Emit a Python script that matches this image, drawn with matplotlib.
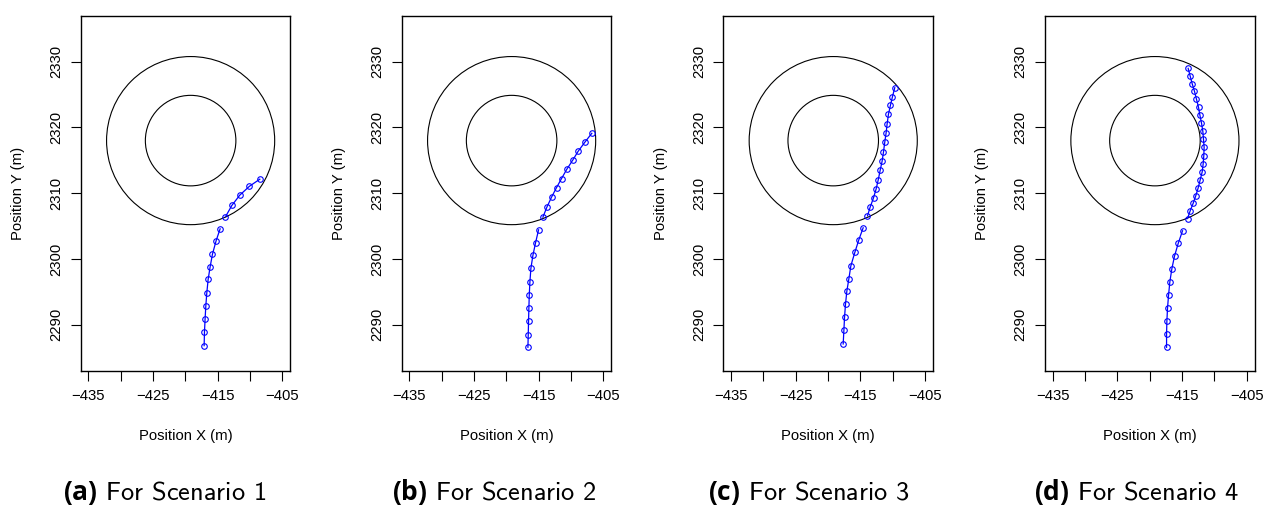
import matplotlib
matplotlib.use("Agg")
import matplotlib.pyplot as plt
import numpy as np
from matplotlib.patches import Ellipse

plt.rcParams["font.family"] = ["Liberation Sans", "DejaVu Sans"]
plt.rcParams["mathtext.fontset"] = "custom"
plt.rcParams["mathtext.bf"] = "Open Sans:bold"

# roundabout (two rings)
center_x = -419.2
center_y = 2318.0
ring_radii = [13.0, 7.0]

# axes settings
x_ticks = [-435, -430, -425, -420, -415, -410, -405]
x_tick_labels = ["−435", "", "−425", "", "−415", "", "−405"]
y_ticks = [2290, 2300, 2310, 2320, 2330]
x_range = (-435, -405)
y_range = (2285, 2335)

captions = ["(a)", "(b)", "(c)", "(d)"]
caption_texts = ["For Scenario 1", "For Scenario 2", "For Scenario 3", "For Scenario 4"]

# scenario 1: approach (outside) and inside the ring
s1_out_x = [-417.11, -417.06, -416.96, -416.85, -416.70, -416.49, -416.18, -415.82, -415.26, -414.64]
s1_out_y = [2286.81, 2288.84, 2290.91, 2292.84, 2294.81, 2296.89, 2298.81, 2300.74, 2302.76, 2304.58]
s1_in_x = [-413.81, -412.83, -411.60, -410.10, -408.50]
s1_in_y = [2306.41, 2308.13, 2309.70, 2311.06, 2312.13]

# scenario 2
s2_out_x = [-416.68, -416.63, -416.58, -416.53, -416.47, -416.37, -416.22, -415.91, -415.50, -415.03]
s2_out_y = [2286.56, 2288.48, 2290.56, 2292.53, 2294.56, 2296.53, 2298.56, 2300.53, 2302.46, 2304.43]
s2_in_x = [-414.36, -413.75, -413.03, -412.25, -411.48, -410.66, -409.73, -408.91, -407.88, -406.80]
s2_in_y = [2306.36, 2307.87, 2309.39, 2310.86, 2312.23, 2313.65, 2315.06, 2316.38, 2317.75, 2319.11]

# scenario 3
s3_out_x = [-417.66, -417.55, -417.45, -417.30, -417.09, -416.78, -416.47, -415.86, -415.24, -414.57]
s3_out_y = [2287.07, 2289.14, 2291.12, 2293.14, 2295.12, 2296.99, 2298.96, 2300.99, 2302.91, 2304.74]
s3_in_x = [-413.90, -413.49, -412.97, -412.56, -412.25, -411.94, -411.64, -411.43, -411.23, -411.02,
           -410.87, -410.66, -410.35, -410.04, -409.68]
s3_in_y = [2306.56, 2307.87, 2309.29, 2310.66, 2311.98, 2313.49, 2314.86, 2316.23, 2317.75, 2319.17,
           2320.48, 2322.00, 2323.37, 2324.68, 2326.05]

# scenario 4
s4_out_x = [-417.40, -417.40, -417.35, -417.25, -417.09, -416.89, -416.58, -416.17, -415.60, -414.93]
s4_out_y = [2286.56, 2288.58, 2290.56, 2292.53, 2294.51, 2296.53, 2298.51, 2300.43, 2302.36, 2304.28]
s4_in_x = [-414.16, -413.75, -413.28, -412.87, -412.51, -412.20, -411.89, -411.74, -411.64, -411.59,
           -411.69, -411.79, -412.00, -412.25, -412.46, -412.77, -413.08, -413.44, -413.75, -414.06]
s4_in_y = [2306.15, 2307.32, 2308.48, 2309.65, 2310.81, 2312.03, 2313.24, 2314.46, 2315.72, 2316.99,
           2318.20, 2319.42, 2320.68, 2321.90, 2323.06, 2324.28, 2325.49, 2326.66, 2327.82, 2328.99]

scenarios = [
    (s1_out_x, s1_out_y, s1_in_x, s1_in_y),
    (s2_out_x, s2_out_y, s2_in_x, s2_in_y),
    (s3_out_x, s3_out_y, s3_in_x, s3_in_y),
    (s4_out_x, s4_out_y, s4_in_x, s4_in_y),
]

W, H = 1280, 505
fig = plt.figure(figsize=(W / 100, H / 100), dpi=100)

panel_left = [80.7, 401.7, 723.3, 1045.0]
panel_w, panel_h = 209.5, 355.0
panel_top = 15.7
caption_x = [165, 494, 809, 1137]

# R style 4% padding
pad_x = (x_range[1] - x_range[0]) * 0.04
pad_y = (y_range[1] - y_range[0]) * 0.04
xlim = (x_range[0] - pad_x, x_range[1] + pad_x)
ylim = (y_range[0] - pad_y, y_range[1] + pad_y)

for i, (ox, oy, ix, iy) in enumerate(scenarios):
    ax = fig.add_axes([panel_left[i] / W, (H - panel_top - panel_h) / H, panel_w / W, panel_h / H])
    ax.set_xlim(*xlim)
    ax.set_ylim(*ylim)

    # rings drawn round on screen (R draw.circle)
    k = (panel_w / (xlim[1] - xlim[0])) / (panel_h / (ylim[1] - ylim[0]))
    for r in ring_radii:
        ax.add_patch(Ellipse((center_x, center_y), 2 * r, 2 * r * k, fill=False,
                             edgecolor="black", linewidth=0.8))

    for xs, ys in [(ox, oy), (ix, iy)]:
        ax.plot(xs, ys, color="blue", linewidth=0.9, marker="o", markersize=4.0,
                markerfacecolor="none", markeredgecolor="blue", markeredgewidth=0.8)

    ax.set_xticks(x_ticks)
    ax.set_xticklabels(x_tick_labels)
    ax.set_yticks(y_ticks)
    ax.set_yticklabels([str(v) for v in y_ticks], rotation=90, va="center")
    ax.tick_params(axis="both", direction="out", length=7, width=0.8, labelsize=10.7, color="black")
    ax.tick_params(axis="x", pad=6.0)
    ax.tick_params(axis="y", pad=5.5)
    for sp in ax.spines.values():
        sp.set_linewidth(1.0)

    ax.set_xlabel("Position X (m)", fontsize=10.7)
    ax.set_ylabel("Position Y (m)", fontsize=10.7)
    ax.xaxis.label.set_va("center")
    ax.yaxis.label.set_va("center")
    ax.xaxis.set_label_coords(0.5, (370.7 - 436) / panel_h)
    ax.yaxis.set_label_coords((18 - panel_left[0]) / panel_w, 0.5)

    fig.text(caption_x[i] / W, 5.0 / H, r"$\mathbf{" + captions[i] + "}$ " + caption_texts[i],
             ha="center", va="baseline", fontsize=19, family="cmss10")

fig.savefig("out.png", dpi=100)
